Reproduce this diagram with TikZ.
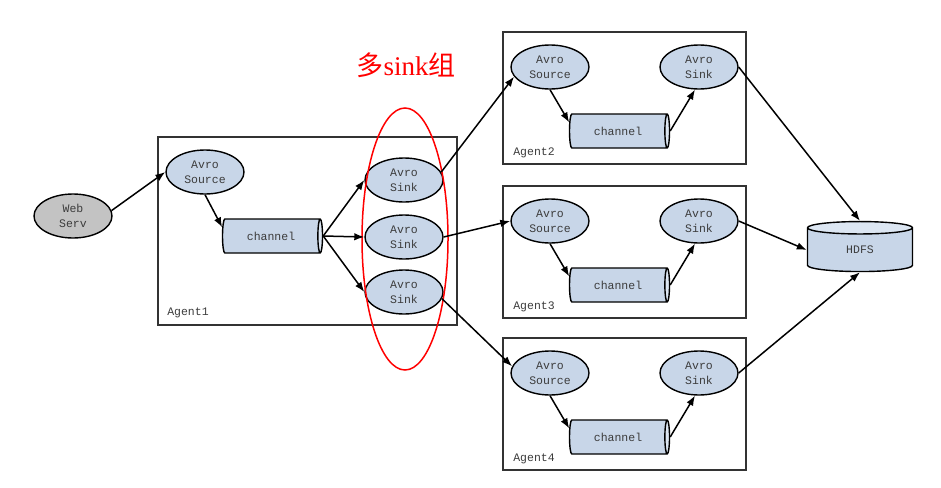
\documentclass[tikz,border=0pt]{standalone}
\usepackage{fontspec}
\setmainfont{Liberation Serif}
\setmonofont{Liberation Mono}
\newfontfamily\cjk{Noto Sans CJK SC}
\usetikzlibrary{shapes.geometric, arrows.meta, positioning}
\definecolor{nodeblue}{HTML}{C8D6E8}
\definecolor{endblue}{HTML}{DCE6F2}
\definecolor{webgray}{HTML}{C3C3C3}
\definecolor{txtgray}{HTML}{3C3C3C}
\begin{document}
\begin{tikzpicture}[x=1pt, y=-1pt,
  every node/.style = {font=\ttfamily\fontsize{11.5}{15}\selectfont, text=txtgray},
  avro/.style = {ellipse, draw=black, line width=1.4pt, fill=nodeblue, minimum width=78pt, minimum height=44pt, inner sep=0pt, align=center},
  chan/.style = {cylinder, draw=black, line width=1.4pt, cylinder uses custom fill, cylinder body fill=nodeblue, cylinder end fill=endblue, minimum width=34pt, minimum height=100pt, aspect=0.55, inner sep=0pt},
  agent/.style = {draw=black!80, line width=1.6pt},
  flow/.style = {-{Latex[length=10pt, width=7.5pt]}, line width=1.5pt}]
\useasboundingbox (0,0) rectangle (941,487);
\draw[agent] (158,137) rectangle (457,325);
\node at (188,313) {Agent1};
\node[avro, fill=webgray] (web) at (73,216) {Web\\Serv};
\node[avro] (src1) at (205,172) {Avro\\Source};
\node[chan] (ch1) at (271,236) {channel};
\foreach \n/\y in {a/180, b/237, c/292}
  \node[avro] (sk\n) at (404,\y) {Avro\\Sink};
\node[ellipse, draw=red, line width=1.5pt, minimum width=86pt, minimum height=262pt] (grp) at (405,239) {};
\node[text=red, font=\rmfamily\fontsize{27}{27}\selectfont] (grplabel) at (406,65) {{\cjk 多}sink{\cjk 组}};
\node[cylinder, shape border rotate=90, draw=black, line width=1.4pt, cylinder uses custom fill, cylinder body fill=nodeblue, cylinder end fill=endblue, minimum width=105pt, minimum height=50pt, aspect=0.45, inner sep=0pt] (hdfs) at (860,250) {HDFS};
\foreach \i/\t in {2/32, 3/186, 4/338}{
  \draw[agent] (503,\t) rectangle (746,\t+132);
  \node at (534,\t+121) {Agent\i};
  \node[avro] (src\i) at (550,\t+35) {Avro\\Source};
  \node[avro] (sk\i) at (699,\t+35) {Avro\\Sink};
  \node[chan] (ch\i) at (618,\t+99) {channel};
  \draw[flow] (src\i.south) -- (ch\i.170);
  \draw[flow] (ch\i.east) -- (sk\i.-100);
}
\draw[flow] (web.8) -- (src1.west);
\draw[flow] (src1.south) -- (ch1.170);
\foreach \n in {a, b, c}
  \draw[flow] (ch1.east) -- (sk\n.west);
\draw[flow] (ska.12) -- (src2.195);
\draw[flow] (skb.east) -- (src3.west);
\draw[flow] (skc.-10) -- (src4.170);
\draw[flow] (sk2.east) -- (hdfs.north);
\draw[flow] (sk3.east) -- (hdfs.west);
\draw[flow] (sk4.east) -- (hdfs.south);
\end{tikzpicture}
\end{document}
